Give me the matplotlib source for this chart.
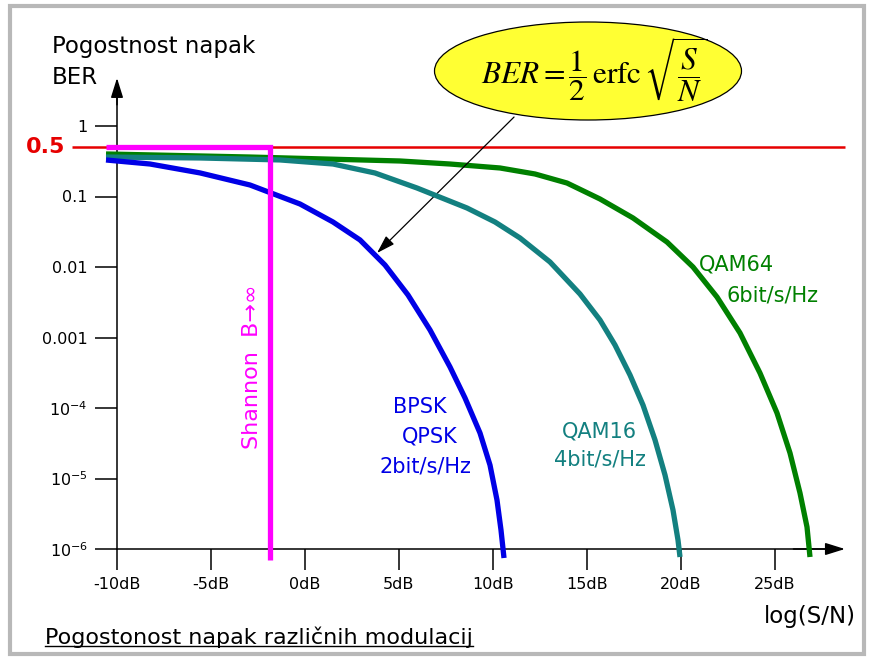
import numpy as np
import matplotlib
matplotlib.use('Agg')
from matplotlib import pyplot as plt
from matplotlib.patches import Ellipse, Rectangle
from matplotlib.lines import Line2D

# S/N [dB] in BER, odčitano s krivulj
bpsk_db = [-10.585, -8.244, -5.583, -2.922, -0.261, 1.495, 2.932, 4.263, 5.487, 6.658,
           7.722, 8.52, 9.319, 9.851, 10.223, 10.436, 10.596]
bpsk_ber = [0.3296, 0.289, 0.216, 0.1456, 0.0783, 0.0435, 0.0242, 0.01067, 4.01e-3, 1.28e-3,
            3.82e-4, 1.39e-4, 4.42e-5, 1.55e-5, 4.95e-6, 1.86e-6, 7.45e-7]

qam16_db = [-10.585, -5.583, -1.325, 1.495, 3.731, 5.966, 8.627, 10.117, 11.448, 13.044,
            14.641, 15.705, 16.503, 17.302, 17.994, 18.633, 19.165, 19.59, 19.856, 19.963]
qam16_ber = [0.363, 0.352, 0.33, 0.289, 0.2155, 0.132, 0.0687, 0.0435, 0.0258, 0.01178,
             4.14e-3, 1.77e-3, 7.83e-4, 2.94e-4, 1.1e-4, 3.52e-5, 1.12e-5, 3.57e-6, 1.34e-6, 7.7e-7]

qam64_db = [-10.585, -2.922, 5.061, 7.722, 10.383, 12.246, 13.949, 15.705, 17.461, 19.271,
            20.655, 21.932, 23.156, 24.22, 25.125, 25.817, 26.349, 26.722, 26.881]
qam64_ber = [0.401, 0.363, 0.319, 0.289, 0.2538, 0.2086, 0.1553, 0.0922, 0.0496, 0.0226,
             0.01, 3.75e-3, 1.16e-3, 3.13e-4, 8.5e-5, 2.3e-5, 6.22e-6, 2.05e-6, 7.7e-7]

shannon_db = -1.85
shannon_ber = [0.5, 7e-7]

x_ticks = [-10, -5, 0, 5, 10, 15, 20, 25]
x_labels = ['-10dB', '-5dB', '0dB', '5dB', '10dB', '15dB', '20dB', '25dB']
y_ticks = [1, 0.1, 0.01, 0.001, 1e-4, 1e-5, 1e-6]
y_labels = ['1', '0.1', '0.01', '0.001', '$10^{-4}$', '$10^{-5}$', '$10^{-6}$']

W, H = 870, 659


def px(x, y):
    return x / W, 1 - y / H


fig = plt.figure(figsize=(W / 100, H / 100), dpi=100)
fig.patch.set_facecolor('white')
ax = fig.add_axes([0, 0, 1, 1])
ax.patch.set_alpha(0)
ax.set_yscale('log')
# 1 dB = 18.79 px, ena dekada = 70.5 px, izhodišče osi (-10 dB, 1) pri (117, 126)
ax.set_xlim(-10 - 117 / 18.79, -10 + (W - 117) / 18.79)
ax.set_ylim(10 ** (-(H - 126) / 70.5), 10 ** (126 / 70.5))

for s in ['top', 'right']:
    ax.spines[s].set_visible(False)
ax.spines['left'].set_position(('data', -10))
ax.spines['bottom'].set_position(('data', 1e-6))
ax.spines['left'].set_bounds(1e-6, 3.5)
ax.spines['bottom'].set_bounds(-10, 28.0)
for s in ['left', 'bottom']:
    ax.spines[s].set_linewidth(1.1)

ax.set_xticks(x_ticks, x_labels)
ax.set_yticks(y_ticks, y_labels)
ax.yaxis.set_minor_locator(matplotlib.ticker.NullLocator())
ax.tick_params(axis='y', direction='out', length=16, width=1.1, pad=5, labelsize=11.5)
ax.tick_params(axis='x', direction='out', length=15, width=1.1, pad=5, labelsize=11.5)

arrow = dict(arrowstyle='-|>,head_length=0.8,head_width=0.25', color='k', lw=1.1,
             mutation_scale=15, shrinkA=0, shrinkB=0)
ax.annotate('', xy=(-10, 4.8), xytext=(-10, 2.0), arrowprops=arrow)
ax.annotate('', xy=(28.74, 1e-6), xytext=(26.0, 1e-6), arrowprops=arrow)

# meja 0.5
ax.hlines(0.5, -12.4, 28.74, color='#e60000', lw=1.8, zorder=2)
ax.text(-12.75, 0.5, '0.5', color='#e60000', fontsize=16, fontweight='bold',
        ha='right', va='center')

lw = 3.8
ax.plot(qam64_db, qam64_ber, color='#008000', lw=lw, solid_capstyle='butt',
        solid_joinstyle='round', zorder=3)
ax.plot(qam16_db, qam16_ber, color='#138080', lw=lw, solid_capstyle='butt',
        solid_joinstyle='round', zorder=4)
ax.plot(bpsk_db, bpsk_ber, color='#0000e6', lw=lw, solid_capstyle='butt',
        solid_joinstyle='round', zorder=5)
ax.plot([-10.6, shannon_db, shannon_db], [0.5, shannon_ber[0], shannon_ber[1]],
        color='#ff00ff', lw=lw, solid_capstyle='butt', solid_joinstyle='miter', zorder=6)

ax.text(-2.82, 3.8e-4, 'Shannon  B\u2192\u221e', color='#ff00ff', fontsize=16,
        rotation=90, ha='center', va='center')
ax.text(6.12, 1.03e-4, 'BPSK', color='#0000e6', fontsize=15, ha='center', va='center')
ax.text(6.65, 3.9e-5, 'QPSK', color='#0000e6', fontsize=15, ha='center', va='center')
ax.text(6.44, 1.46e-5, '2bit/s/Hz', color='#0000e6', fontsize=15, ha='center', va='center')
ax.text(15.69, 4.7e-5, 'QAM16', color='#138080', fontsize=15, ha='center', va='center')
ax.text(15.69, 1.83e-5, '4bit/s/Hz', color='#138080', fontsize=15, ha='center', va='center')
ax.text(22.98, 0.0107, 'QAM64', color='#008000', fontsize=15, ha='center', va='center')
ax.text(24.89, 4.0e-3, '6bit/s/Hz', color='#008000', fontsize=15, ha='center', va='center')

# formula v elipsi s puščico na krivuljo
fig.add_artist(Ellipse(px(588, 71), 307 / W, 98 / H, transform=fig.transFigure,
                       fc='#ffff33', ec='k', lw=0.9))
fig.text(*px(594, 70), r'$BER=\dfrac{1}{2}\,\mathrm{erfc}\,\sqrt{\dfrac{S}{N}}$',
         fontsize=22.5, ha='center', va='center', math_fontfamily='stix')
ax.annotate('', xy=(3.84, 0.0158), xytext=(11.13, 1.34),
            arrowprops=dict(arrowstyle='-|>,head_length=0.8,head_width=0.25', color='k',
                            lw=0.9, mutation_scale=14, shrinkA=0, shrinkB=0))

fig.text(*px(52, 46), 'Pogostnost napak', fontsize=16.5, va='center')
fig.text(*px(52, 77), 'BER', fontsize=16.5, va='center')
fig.text(*px(810, 617), 'log(S/N)', fontsize=16.5, ha='center', va='center')

title = fig.text(*px(45, 637), 'Pogostonost napak različnih modulacij', fontsize=16, va='center')
fig.canvas.draw()
bb = title.get_window_extent().transformed(fig.transFigure.inverted())
fig.add_artist(Line2D([bb.x0, bb.x1], [bb.y0 + 0.002, bb.y0 + 0.002], color='k', lw=1.0,
                      transform=fig.transFigure))

fig.add_artist(Rectangle(px(10, 654), 854 / W, 648 / H, transform=fig.transFigure,
                         fill=False, ec='#b8b8b8', lw=3))

fig.savefig('out.png', dpi=100, facecolor='white')
